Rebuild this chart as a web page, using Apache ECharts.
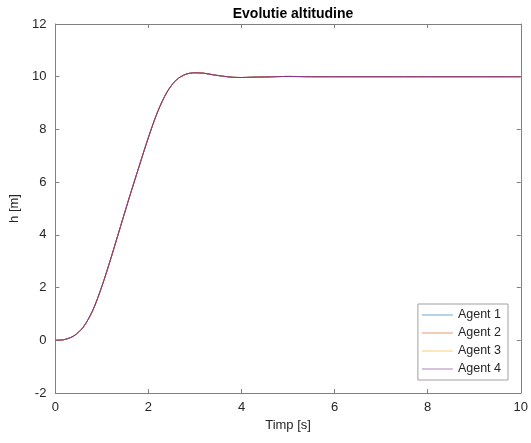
<!DOCTYPE html>
<html><head><meta charset="utf-8">
<script src="https://cdn.jsdelivr.net/npm/echarts@6/dist/echarts.min.js"></script>
<style>html,body{margin:0;padding:0;background:#fff}#c{width:531px;height:443px}</style>
</head><body><div id="c"></div>
<script>
const titleText = 'Evolutie altitudine';
const xName = 'Timp [s]';
const yName = 'h [m]';
const agentNames = ['Agent 1', 'Agent 2', 'Agent 3', 'Agent 4'];
const agentColors = ['#0072BD', '#D95319', '#EDB120', '#7E2F8E'];
const times = [0, 0.2, 0.4, 0.6, 0.8, 1.0, 1.2, 1.4, 1.6, 1.8, 2.0, 2.2, 2.4, 2.6, 2.8, 3.0, 3.2, 3.4, 3.6, 3.8, 4.0, 4.2, 4.5, 5.0, 5.5, 6.0, 7.0, 8.0, 9.0, 10.0];
const agent1 = [0, 0.03, 0.17, 0.5, 1.12, 2.05, 3.15, 4.32, 5.48, 6.6, 7.7, 8.68, 9.42, 9.88, 10.09, 10.15, 10.13, 10.07, 10.02, 9.98, 9.97, 9.98, 9.99, 10.01, 10.0, 10.0, 10.0, 10.0, 10.0, 10.0];
const agent2 = agent1.slice();
const agent3 = agent1.slice();
const agent4 = agent1.slice();
const agentValues = [agent1, agent2, agent3, agent4];
const xTicks = [0, 2, 4, 6, 8, 10];
const yTicks = [-2, 0, 2, 4, 6, 8, 10, 12];

const axisCol = '#808080';
const labelCol = '#262626';
const font = 'Liberation Sans, Arial, sans-serif';
const chart = echarts.init(document.getElementById('c'));
const tickBase = {show: true, inside: true, length: 4, lineStyle: {color: axisCol}};
chart.setOption({
  animation: false,
  backgroundColor: '#fff',
  title: {text: titleText, left: 288, top: 2, textAlign: 'center',
    textStyle: {fontFamily: font, fontSize: 14, fontWeight: 'bold', color: '#000'}},
  grid: {left: 54, right: 9, top: 24, bottom: 50},
  legend: {
    data: agentNames, orient: 'vertical', right: 23, bottom: 63,
    backgroundColor: '#fff', borderColor: '#a0a0a0', borderWidth: 1,
    icon: 'rect', itemHeight: 1, itemWidth: 31,
    padding: [4, 7, 4, 4], itemGap: 4,
    textStyle: {fontFamily: font, fontSize: 12.5, color: labelCol, lineHeight: 14}
  },
  xAxis: [{
    type: 'value', min: 0, max: 10, interval: 2, name: xName, nameLocation: 'middle', nameGap: 26,
    nameTextStyle: {fontFamily: font, fontSize: 13, color: labelCol},
    axisLine: {show: true, onZero: false, lineStyle: {color: axisCol}}, axisTick: tickBase,
    axisLabel: {fontFamily: font, fontSize: 13, color: labelCol, margin: 8},
    splitLine: {show: false}
  }, {
    type: 'value', position: 'top', min: 0, max: 10, interval: 2,
    axisLine: {show: true, onZero: false, lineStyle: {color: axisCol}}, axisTick: tickBase,
    axisLabel: {show: false}, splitLine: {show: false}
  }],
  yAxis: [{
    type: 'value', min: -2, max: 12, interval: 2, name: yName, nameLocation: 'middle', nameGap: 30,
    nameTextStyle: {fontFamily: font, fontSize: 13, color: labelCol},
    axisLine: {show: true, onZero: false, lineStyle: {color: axisCol}}, axisTick: tickBase,
    axisLabel: {fontFamily: font, fontSize: 13, color: labelCol, margin: 9},
    splitLine: {show: false}
  }, {
    type: 'value', position: 'right', min: -2, max: 12, interval: 2,
    axisLine: {show: true, onZero: false, lineStyle: {color: axisCol}}, axisTick: tickBase,
    axisLabel: {show: false}, splitLine: {show: false}
  }],
  series: agentNames.map((n, i) => ({
    name: n, type: 'line', smooth: 0.3, symbol: 'none', showSymbol: false,
    data: times.map((t, k) => [t, agentValues[i][k]]),
    lineStyle: {color: agentColors[i], width: 1},
    itemStyle: {color: agentColors[i], opacity: 0.6}
  }))
});
</script></body></html>
